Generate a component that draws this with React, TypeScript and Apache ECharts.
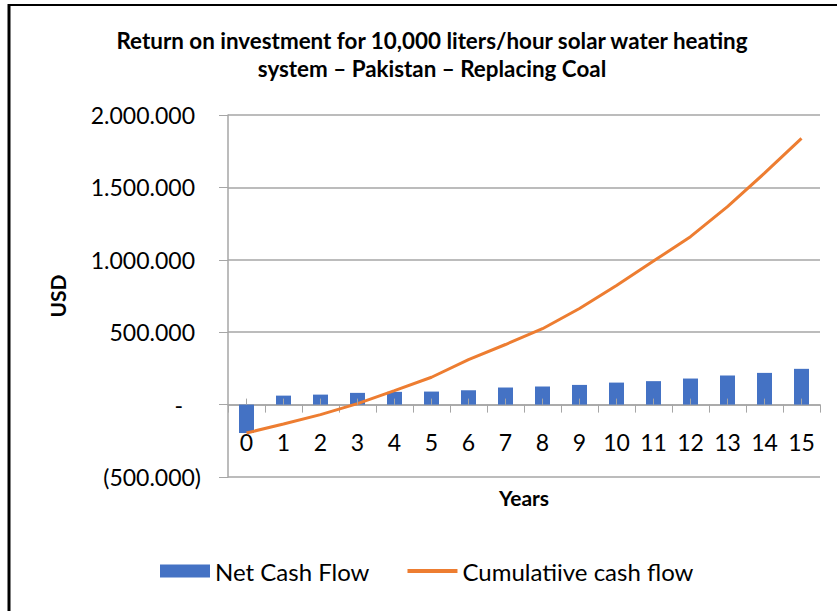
import React, { useEffect, useRef } from "react";
import * as echarts from "echarts";

const years = ["0", "1", "2", "3", "4", "5", "6", "7", "8", "9", "10", "11", "12", "13", "14", "15"];
const netCashFlow = [-196000, 62000, 69000, 81000, 88000, 90000, 99000, 118000, 125000, 136000, 152000, 162000, 180000, 201000, 219000, 247000];
const cumulativeCashFlow = [-196000, -134000, -69000, 7000, 97000, 189000, 311000, 415000, 524000, 664000, 823000, 991000, 1160000, 1367000, 1598000, 1838000];
const titleLines = ["Return on investment for 10,000 liters/hour solar water heating", "system \u2013 Pakistan \u2013 Replacing Coal"];
const seriesNames = ["Net Cash Flow", "Cumulatiive cash flow"];
const yMin = -500000;
const yMax = 2000000;
const yStep = 500000;

const FONT = "Lato, 'Open Sans', sans-serif";

function fmt(v: number): string {
  if (v === 0) return "{z|-}";
  const s = Math.abs(v).toString().replace(/\B(?=(\d{3})+(?!\d))/g, ".");
  return v < 0 ? `{n|(${s})}` : `{p|${s}}`;
}

export default function App() {
  const ref = useRef<HTMLDivElement>(null);
  useEffect(() => {
    if (!ref.current) return;
    const chart = echarts.init(ref.current, undefined, { renderer: "svg" });
    const labelStyle = { fontFamily: FONT, fontSize: 23, color: "#000" };
    const plotH = 362;
    const zeroOffset = -plotH * (0 - yMin) / (yMax - yMin);
    chart.setOption({
      animation: false,
      backgroundColor: "#fff",
      textStyle: { fontFamily: FONT },
      title: {
        text: titleLines.join("\n"),
        left: 427,
        textAlign: "center",
        top: 21,
        textStyle: { fontFamily: FONT, fontSize: 22.4, fontWeight: "bold", color: "#000", lineHeight: 28 },
      },
      graphic: [
        { type: "line", shape: { x1: 9, y1: 4, x2: 9, y2: 611 }, style: { stroke: "#000", lineWidth: 3 } },
        { type: "line", shape: { x1: 8, y1: 5, x2: 837, y2: 5 }, style: { stroke: "#000", lineWidth: 2 } },
      ],
      grid: { left: 228, top: 115, width: 592, height: plotH, containLabel: false },
      legend: {
        left: 155,
        top: 554,
        itemWidth: 50,
        itemHeight: 13,
        itemGap: 38,
        textStyle: { fontFamily: FONT, fontSize: 24, color: "#000" },
        data: [
          { name: seriesNames[0], icon: "rect" },
          { name: seriesNames[1], icon: "path://M0,0 L50,0 L50,4 L0,4 Z" },
        ],
      },
      xAxis: [
        {
          type: "category",
          data: years,
          position: "bottom",
          offset: zeroOffset,
          name: "Years",
          nameLocation: "middle",
          nameGap: 82,
          nameTextStyle: { fontFamily: FONT, fontSize: 21, fontWeight: "bold", color: "#000" },
          axisLine: { onZero: false, lineStyle: { color: "#A6A6A6", width: 1.5 } },
          axisTick: { show: true, length: 8, lineStyle: { color: "#A6A6A6" } },
          axisLabel: { ...labelStyle, margin: 26 },
        },
        {
          type: "category",
          data: years,
          position: "bottom",
          offset: zeroOffset,
          z: 5,
          axisLine: { show: false, onZero: false },
          axisTick: { show: true, alignWithLabel: true, inside: true, length: 6, lineStyle: { color: "#A6A6A6" } },
          axisLabel: { show: false },
          splitLine: { show: false },
        },
      ],
      yAxis: {
        type: "value",
        min: yMin,
        max: yMax,
        interval: yStep,
        name: "USD",
        nameLocation: "middle",
        nameGap: 160,
        nameTextStyle: { fontFamily: FONT, fontSize: 21, fontWeight: "bold", color: "#000" },
        axisLine: { show: true, lineStyle: { color: "#A6A6A6", width: 1.5 } },
        axisTick: { show: true, length: 9, lineStyle: { color: "#A6A6A6" } },
        splitLine: { lineStyle: { color: "#A6A6A6", width: 1.5 } },
        axisLabel: {
          ...labelStyle,
          margin: 27,
          formatter: fmt,
          rich: {
            p: { ...labelStyle, padding: [0, 6, 0, 0] },
            z: { ...labelStyle, padding: [0, 18, 0, 0] },
            n: { ...labelStyle },
          },
        },
      },
      series: [
        {
          name: seriesNames[0],
          type: "bar",
          xAxisIndex: 0,
          data: netCashFlow,
          barWidth: 15,
          itemStyle: { color: "#4472C4" },
        },
        {
          name: seriesNames[1],
          type: "line",
          xAxisIndex: 0,
          data: cumulativeCashFlow,
          symbol: "none",
          lineStyle: { color: "#ED7D31", width: 3 },
          itemStyle: { color: "#ED7D31" },
        },
      ],
    });
    return () => chart.dispose();
  }, []);
  return <div ref={ref} style={{ position: "fixed", left: 0, top: 0, width: 837, height: 611 }} />;
}
